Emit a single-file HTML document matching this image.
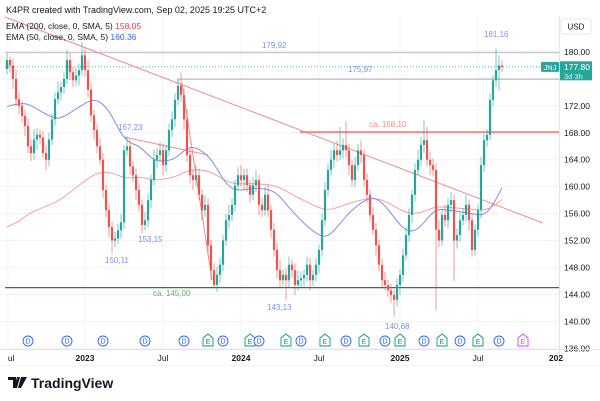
<!DOCTYPE html>
<html><head><meta charset="utf-8"><style>
body{margin:0;background:#fff;}
svg{display:block;font-family:"Liberation Sans",sans-serif;}
</style></head><body>
<svg id="chart" width="600" height="401" viewBox="0 0 600 401" xmlns="http://www.w3.org/2000/svg">
<rect width="600" height="401" fill="#fff"/>
<text x="6" y="13" font-size="9" fill="#131722">K4PR created with TradingView.com, Sep 02, 2025 19:25 UTC+2</text>
<g id="grid"></g>
<g id="overlays"></g>
<g id="mas"></g>
<g id="candles"></g>
<g id="labels"></g>
<g id="events"></g>
<g id="yaxis"></g>
<g id="xaxis"></g>
<text x="6" y="29" font-size="8.5" fill="#131722">EMA (200, close, 0, SMA, 5) <tspan fill="#f23645">158.05</tspan></text>
<text x="6" y="40" font-size="8.5" fill="#131722">EMA (50, close, 0, SMA, 5) <tspan fill="#2962ff">160.36</tspan></text>
<g>
<path d="M8 377h8v11h-3v-8h-5z M17 377h3l-3 11h-3z M21 377h6l-6 11h-3z" fill="#131722"/>
<text x="31" y="388" font-size="14" font-weight="bold" fill="#131722">TradingView</text>
</g>
</svg>
<script>
const closes=[178.8,178,176,173,172,170.5,169,166,165,167,
167.7,167.3,165,164,167,170,173,174,174.8,176,
178.8,177,175.8,176.5,177.3,179.5,177.3,174.4,170.6,168.4,
166,164,159.5,156.5,154,152,152.3,153.5,154.7,165.4,
166,163,161.7,159.5,157.3,154.3,155,158,161,164,
164.7,165.4,163.2,165.4,168.4,170,172.9,175,173.6,170,
164.7,161.7,161,161.7,158.8,156.5,157.3,151.3,147.6,145.4,
146.9,148.4,152,155,155.8,157.3,160.2,161.7,161,161.7,
160.2,158.8,160.2,161,157.3,156.5,158.8,156.5,153.6,150.6,
147.6,146.1,146.9,146.1,148.4,147.6,145.4,146.1,146.4,146.9,
148.4,146.1,146.9,148.4,150.6,155,159.5,162.5,164,165.4,
164.7,165.4,166.2,165.4,163.2,161,163.2,165.4,164.7,161,
158.8,155.8,153.6,151.3,148.4,146.1,145.4,144.6,143.9,143.2,
145.4,146.9,149.8,152.8,155.8,158.8,162.5,164,166.2,166.9,
164,163.2,162.5,153.6,152,155.8,155,157.3,158,152,
152.8,155,155.8,157.3,155,150.6,153.6,156.5,163.2,166.9,
167.7,172.9,175.8,177.3,178,177.8];
const firstOpen=177.5;
const wickUp=[1,0.5,1,1.5,1,0.8,1,1.2,1,1.5,
1,0.8,1,1.2,1,0.8,1,1.5,0.8,1,
1.5,1,0.8,1.2,1,2,1,1.5,1,0.8,
1,1.2,1,0.8,1,0.8,1,1,1.2,0.8,
1.5,1,0.8,1,1,0.8,1.2,1,0.8,1.5,
1,1.2,1,0.8,1,1.2,1,1,2,1,
1.5,1,0.8,1.5,1,0.8,1.5,1,0.8,1,
1.2,1,0.8,1,1.5,1,0.8,1.2,1.5,1,
1,0.8,1.2,1.5,0.8,1,1.2,1.5,0.8,1,
1,1.5,0.8,1,1.2,0.8,1,1.5,1,0.8,
1.2,1,0.8,1,0.8,1,1.2,1,1.5,1,
1.5,3.5,1,3.5,1,0.8,1.2,1,1.5,0.8,
1,0.8,1.2,1,0.8,1,1.2,0.8,1,0.8,
1,0.8,1,1.2,1,0.8,1,1.5,1.2,3,
2,1.2,1,1,1.5,0.8,1.5,1,1.2,0.8,
1,1.2,1,1.5,0.8,1,0.8,1,1.2,1,
0.8,1,0.8,3.2,1.5,0.8];
const wickDown=[0.8,1,1.5,1,1.2,1,1.5,1,1.2,1,
1.5,1,0.8,1.5,1,0.8,1,0.8,1.2,1,
0.8,1.2,1,0.8,1.5,0.8,1,1.2,1,1.5,
1,0.8,1.2,1,1.5,1.9,1,0.8,1.2,1,
0.8,1.2,1,1.5,1,1.2,0.8,1,1.2,0.8,
1.2,1,1.5,1,0.8,1,1.2,0.8,1,1.5,
1,1.2,1.5,1,0.8,1.5,1,1,1.5,0.4,
1,1.2,1,0.8,1.2,1,1,0.8,1,1.5,
1,1.2,0.8,1,1.5,1,0.8,1,1.2,1,
1.2,1,0.8,3,1,1.2,1.5,0.8,1,1.2,
1,1.5,0.8,1,1.2,1,0.8,1,0.8,1.2,
1,0.8,1.2,1,1.5,1,1,0.8,1.2,1,
1.2,1,0.8,1.5,1,1.2,0.8,1,1.2,2.5,
1,1.5,1,0.8,1,1.2,1,0.8,1,1.2,
1,1.5,1,12,1,0.8,1,1.2,1,6,
1.2,1,0.8,1,1.5,1,0.8,1,1.2,1,
1,0.8,1,1,3,0.8];
const yTicks=[180,176,172,168,164,160,156,152,148,144,140,136];
const xTickLabels=["ul","2023","Jul","2024","Jul","2025","Jul","202"];
const xTickWeeks=[0.3,26,52,78,104,131,157,183];
const xTickBold=[false,true,false,true,false,true,false,true];
const eventWeeks=[7,20,32,46,59,67,72,81,84,93,98,106,113,119,126,131,139,145,151,157,164,172];
const eventTypes=["D","D","D","D","D","E","D","E","D","E","D","E","D","E","D","E","D","E","D","E","D","E2"];
const levels={top:179.92,mid:175.97,last:177.80,res:168.10,sup:145.00};

const NS="http://www.w3.org/2000/svg";
const X0=7,DX=3,PX=6.733,YREF=180,Y0=52;
function xs(i){return X0+DX*i;}
function ys(p){return Y0+(YREF-p)*PX;}
function mk(tag,attrs,parent,txt){const e=document.createElementNS(NS,tag);for(const k in attrs)e.setAttribute(k,attrs[k]);if(txt!==undefined)e.textContent=txt;parent.appendChild(e);return e;}
const G=id=>document.getElementById(id);

const grid=G('grid');
yTicks.forEach(t=>{const l=mk('line',{x1:0,x2:559,y1:ys(t),y2:ys(t),stroke:'#f0f3fa','stroke-width':1},grid);

});
xTickWeeks.forEach(w=>{const l=mk('line',{x1:xs(w),x2:xs(w),y1:16,y2:349,stroke:'#f0f3fa','stroke-width':1},grid);

});

const ov=G('overlays');
function line(x1,y1,x2,y2,st,w,name,dash){const l=mk('line',{x1,y1,x2,y2,stroke:st,'stroke-width':w},ov);if(dash)l.setAttribute('stroke-dasharray',dash);

return l;}
line(5,ys(levels.top),559,ys(levels.top),'#c8cad0',1.5,'level-179-92');
line(178,ys(levels.mid),559,ys(levels.mid),'#a8aab0',1,'level-175-97');
line(178,ys(levels.mid),178,83,'#a8aab0',1,'level-175-97-tick');
line(5,ys(levels.last),559,ys(levels.last),'#26a69a',0.8,'last-price-line','1 2');
line(300,ys(levels.res),559,ys(levels.res),'#f28b8b',2,'level-168-10');
line(5,ys(levels.sup),559,ys(levels.sup),'#2e7d32',1.3,'level-145-00');
line(5,17,543,223,'#f28b8b',1,'long-downtrend-line');
line(124,137,208,155,'#f28b8b',1,'short-downtrend-line');
line(182,83,212,280,'#f28b8b',1,'steep-downtrend-line');

function ema(arr,n,seed){const a=2/(n+1);let v=seed;const o=[];arr.forEach(c=>{v=v+a*(c-v);o.push(v);});
const s=[];for(let i=0;i<o.length;i++){let sum=0,k=0;for(let j=Math.max(0,i-4);j<=i;j++){sum+=o[j];k++;}s.push(sum/k);}return s;}
const ma200=ema(closes,100,153.5), ma50=ema(closes,38,171.5);
const mas=G('mas');
[[ma200,'#f7a1a1','ema-200-line'],[ma50,'#7b8ff0','ema-50-line']].forEach(([m,c,n])=>{
const p=mk('path',{d:m.map((v,i)=>(i?'L':'M')+xs(i).toFixed(1)+' '+ys(v).toFixed(1)).join(''),fill:'none',stroke:c,'stroke-width':1},mas);

});

const cg=G('candles');
closes.forEach((c,i)=>{const o=i?closes[i-1]:firstOpen;const up=c>=o;const col=up?'#26a69a':'#ef5350';
const hi=Math.max(o,c)+wickUp[i],lo=Math.min(o,c)-wickDown[i];
const g=mk('g',{},cg);


mk('line',{x1:xs(i),x2:xs(i),y1:ys(hi),y2:ys(lo),stroke:col,'stroke-width':0.8,opacity:0.75},g);
const top=ys(Math.max(o,c)),h=Math.max(1,ys(Math.min(o,c))-top);
mk('rect',{x:xs(i)-1.1,y:top,width:2.2,height:h,fill:col},g);});

const lb=G('labels');
[[262,48,'179,92','#7b8ff0'],[348,72,'175,97','#7b8ff0'],[484,37,'181,16','#7b8ff0'],[118,130,'167,23','#7b8ff0'],
[138,242,'153,15','#7b8ff0'],[105,263,'150,11','#7b8ff0'],[153,296,'ca. 145,00','#6aa56e'],[267,310,'143,13','#7b8ff0'],
[385,329,'140,68','#7b8ff0'],[369,127,'ca. 168,10','#f28b8b']].forEach(([x,y,t,c])=>{
const e=mk('text',{x,y,'font-size':8,fill:c},lb,t);

});

const ev=G('events');
eventWeeks.forEach((w,k)=>{const t=eventTypes[k];const x=xs(w),y=341;const g=mk('g',{},ev);


if(t==='D'){mk('circle',{cx:x,cy:y,r:5,fill:'#fff',stroke:'#2962ff','stroke-width':0.9},g);
mk('text',{x:x,y:y+2.6,'font-size':7,fill:'#2962ff','text-anchor':'middle'},g,'D');}
else{const c=t==='E2'?'#e040fb':'#089981';
mk('path',{d:`M${x-5} ${y-3}L${x} ${y-7}L${x+5} ${y-3}V${y+5}H${x-5}Z`,fill:'#fff',stroke:c,'stroke-width':0.9},g);
mk('text',{x:x,y:y+3,'font-size':7,fill:c,'text-anchor':'middle'},g,'E');}});

const ya=G('yaxis');
mk('line',{x1:559.5,x2:559.5,y1:16,y2:365,stroke:'#e0e3eb','stroke-width':1},ya);
const ub=mk('rect',{x:561,y:19,width:30,height:15,fill:'#fff',stroke:'#e0e3eb','stroke-width':0.8,rx:2},ya);


mk('text',{x:576,y:29.5,'font-size':8,fill:'#131722','text-anchor':'middle'},ya,'USD');
yTicks.forEach(t=>{if(t===176)return;const e=mk('text',{x:564,y:ys(t)+3,'font-size':8.5,fill:'#131722'},ya,t.toFixed(2));

});
const tag=mk('rect',{x:541,y:ys(levels.last)-5,width:18,height:10,fill:'#26a69a',rx:1},ya);


mk('text',{x:550,y:ys(levels.last)+3,'font-size':7.5,fill:'#fff','text-anchor':'middle'},ya,'JNJ');
const pb=mk('rect',{x:560,y:ys(levels.last)-5.5,width:32,height:19,fill:'#26a69a'},ya);


mk('text',{x:564,y:ys(levels.last)+3,'font-size':8.5,fill:'#fff'},ya,levels.last.toFixed(2));
mk('text',{x:564,y:ys(levels.last)+12,'font-size':7.5,fill:'#e0f2f1'},ya,'3d 3h');

const xa=G('xaxis');
mk('line',{x1:0,x2:600,y1:349.5,y2:349.5,stroke:'#e0e3eb','stroke-width':1},xa);
mk('line',{x1:0,x2:600,y1:365.5,y2:365.5,stroke:'#f0f3fa','stroke-width':1},xa);
xTickLabels.forEach((t,k)=>{const e=mk('text',{x:xs(xTickWeeks[k]),y:361,'font-size':8.5,fill:'#131722','text-anchor':k===0?'start':'middle','font-weight':xTickBold[k]?'bold':'normal'},xa,t);

});
</script>
</body></html>
